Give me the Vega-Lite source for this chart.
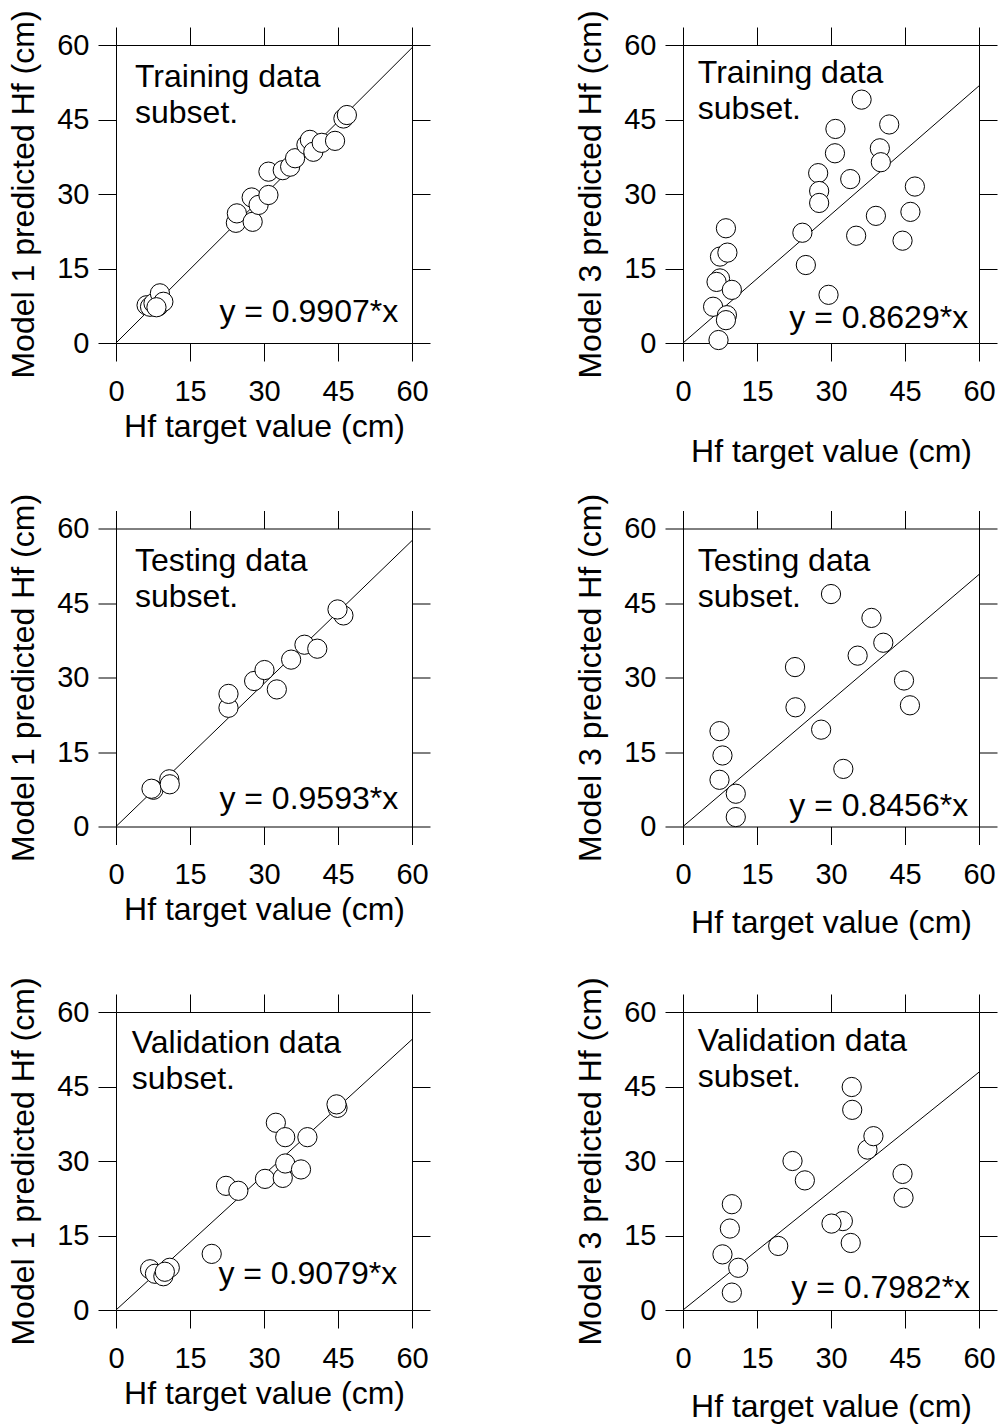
{
  "$schema": "https://vega.github.io/schema/vega-lite/v6.json",
  "background": "white",
  "padding": {"left": 7, "top": 9, "right": 5, "bottom": 5},
  "config": {
    "font": "Liberation Sans",
    "view": {"stroke": null},
    "axis": {
      "grid": false, "domainColor": "black", "domainWidth": 1, "tickColor": "black", "tickWidth": 1, "tickSize": 18,
      "labelFont": "Liberation Sans", "titleFont": "Liberation Sans",
      "labelFontSize": 29, "titleFontSize": 32, "titleFontWeight": "normal",
      "labelColor": "black", "titleColor": "black", "labelFlush": false, "labelOverlap": false, "labelBound": false
    }
  },
  "datasets": {
    "points": [
      {"panel":"L1","x":6.2,"y":7.6},{"panel":"L1","x":6.9,"y":7.3},{"panel":"L1","x":7.6,"y":8.0},{"panel":"L1","x":8.6,"y":7.4},{"panel":"L1","x":8.9,"y":10.0},{"panel":"L1","x":9.6,"y":8.3},{"panel":"L1","x":8.2,"y":7.2},
      {"panel":"L1","x":24.3,"y":24.2},{"panel":"L1","x":24.5,"y":26.1},{"panel":"L1","x":27.5,"y":29.3},{"panel":"L1","x":27.7,"y":24.4},{"panel":"L1","x":28.9,"y":27.8},{"panel":"L1","x":30.9,"y":29.8},{"panel":"L1","x":30.9,"y":34.5},{"panel":"L1","x":33.8,"y":34.8},{"panel":"L1","x":35.3,"y":35.5},{"panel":"L1","x":36.3,"y":37.2},{"panel":"L1","x":38.6,"y":39.9},{"panel":"L1","x":39.3,"y":40.9},{"panel":"L1","x":40.0,"y":38.5},{"panel":"L1","x":41.7,"y":40.3},{"panel":"L1","x":44.4,"y":40.7},{"panel":"L1","x":46.1,"y":45.2},{"panel":"L1","x":46.8,"y":45.9},
      {"panel":"R1","x":36.2,"y":49.0},{"panel":"R1","x":30.9,"y":43.1},{"panel":"R1","x":41.8,"y":44.0},{"panel":"R1","x":30.8,"y":38.2},{"panel":"R1","x":39.9,"y":39.2},{"panel":"R1","x":40.1,"y":36.4},{"panel":"R1","x":27.4,"y":34.2},{"panel":"R1","x":27.6,"y":30.6},{"panel":"R1","x":27.6,"y":28.2},{"panel":"R1","x":33.9,"y":33.0},{"panel":"R1","x":47.0,"y":31.5},{"panel":"R1","x":46.1,"y":26.4},{"panel":"R1","x":39.1,"y":25.6},{"panel":"R1","x":35.1,"y":21.6},{"panel":"R1","x":44.5,"y":20.6},{"panel":"R1","x":24.2,"y":22.2},{"panel":"R1","x":24.9,"y":15.7},{"panel":"R1","x":29.5,"y":9.7},{"panel":"R1","x":8.7,"y":23.1},{"panel":"R1","x":7.5,"y":17.4},{"panel":"R1","x":9.0,"y":18.2},{"panel":"R1","x":7.5,"y":13.0},{"panel":"R1","x":6.8,"y":12.3},{"panel":"R1","x":9.9,"y":10.7},{"panel":"R1","x":6.1,"y":7.3},{"panel":"R1","x":8.9,"y":5.6},{"panel":"R1","x":8.7,"y":4.6},{"panel":"R1","x":7.2,"y":0.6},
      {"panel":"L2","x":7.6,"y":7.4},{"panel":"L2","x":7.2,"y":7.6},{"panel":"L2","x":10.8,"y":9.5},{"panel":"L2","x":10.9,"y":8.5},{"panel":"L2","x":22.8,"y":23.9},{"panel":"L2","x":22.8,"y":26.7},{"panel":"L2","x":28.0,"y":29.3},{"panel":"L2","x":30.1,"y":31.5},{"panel":"L2","x":32.6,"y":27.6},{"panel":"L2","x":35.5,"y":33.6},{"panel":"L2","x":38.2,"y":36.6},{"panel":"L2","x":40.8,"y":35.8},{"panel":"L2","x":46.1,"y":42.5},{"panel":"L2","x":44.9,"y":43.7},
      {"panel":"R2","x":30.0,"y":46.8},{"panel":"R2","x":38.2,"y":42.0},{"panel":"R2","x":40.6,"y":37.0},{"panel":"R2","x":35.4,"y":34.4},{"panel":"R2","x":22.7,"y":32.1},{"panel":"R2","x":44.8,"y":29.4},{"panel":"R2","x":46.0,"y":24.4},{"panel":"R2","x":22.8,"y":24.0},{"panel":"R2","x":28.0,"y":19.5},{"panel":"R2","x":32.5,"y":11.6},{"panel":"R2","x":7.4,"y":19.2},{"panel":"R2","x":8.0,"y":14.3},{"panel":"R2","x":7.4,"y":9.4},{"panel":"R2","x":10.7,"y":6.6},{"panel":"R2","x":10.7,"y":1.9},
      {"panel":"L3","x":6.9,"y":8.2},{"panel":"L3","x":7.9,"y":7.3},{"panel":"L3","x":9.6,"y":6.8},{"panel":"L3","x":10.9,"y":8.5},{"panel":"L3","x":9.9,"y":7.7},{"panel":"L3","x":19.4,"y":11.3},{"panel":"L3","x":22.3,"y":25.0},{"panel":"L3","x":24.8,"y":24.0},{"panel":"L3","x":30.2,"y":26.4},{"panel":"L3","x":33.8,"y":26.6},{"panel":"L3","x":34.3,"y":29.5},{"panel":"L3","x":37.5,"y":28.3},{"panel":"L3","x":32.4,"y":37.7},{"panel":"L3","x":34.3,"y":34.8},{"panel":"L3","x":38.8,"y":34.8},{"panel":"L3","x":44.9,"y":40.7},{"panel":"L3","x":44.7,"y":41.4},
      {"panel":"R3","x":34.2,"y":44.9},{"panel":"R3","x":34.3,"y":40.3},{"panel":"R3","x":37.4,"y":32.3},{"panel":"R3","x":38.6,"y":35.0},{"panel":"R3","x":22.2,"y":30.0},{"panel":"R3","x":24.7,"y":26.1},{"panel":"R3","x":44.5,"y":27.4},{"panel":"R3","x":44.7,"y":22.6},{"panel":"R3","x":9.9,"y":21.3},{"panel":"R3","x":9.5,"y":16.4},{"panel":"R3","x":8.0,"y":11.2},{"panel":"R3","x":11.2,"y":8.5},{"panel":"R3","x":9.9,"y":3.5},{"panel":"R3","x":19.3,"y":12.9},{"panel":"R3","x":32.4,"y":17.9},{"panel":"R3","x":30.1,"y":17.4},{"panel":"R3","x":34.0,"y":13.5}
    ],
    "lines": [
      {"panel":"L1","x":0,"y":0},{"panel":"L1","x":60,"y":59.44},
      {"panel":"R1","x":0,"y":0},{"panel":"R1","x":60,"y":51.77},
      {"panel":"L2","x":0,"y":0},{"panel":"L2","x":60,"y":57.56},
      {"panel":"R2","x":0,"y":0},{"panel":"R2","x":60,"y":50.74},
      {"panel":"L3","x":0,"y":0},{"panel":"L3","x":60,"y":54.47},
      {"panel":"R3","x":0,"y":0},{"panel":"R3","x":60,"y":47.89}
    ],
    "notes": [
      {"panel":"L1","title":"Training data\nsubset.","eq":"y = 0.9907*x"},
      {"panel":"R1","title":"Training data\nsubset.","eq":"y = 0.8629*x"},
      {"panel":"L2","title":"Testing data\nsubset.","eq":"y = 0.9593*x"},
      {"panel":"R2","title":"Testing data\nsubset.","eq":"y = 0.8456*x"},
      {"panel":"L3","title":"Validation data\nsubset.","eq":"y = 0.9079*x"},
      {"panel":"R3","title":"Validation data\nsubset.","eq":"y = 0.7982*x"}
    ]
  },
  "columns": 2,
  "spacing": {"row": 185.5, "column": 271},
  "bounds": "flush",
  "concat": [
      {"width":296,"height":298,"layer":[
        {"data":{"name":"lines"},"transform":[{"filter":"datum.panel==='L1'"}],"mark":{"type":"line","color":"black","strokeWidth":1},
         "encoding":{"x":{"field":"x","type":"quantitative","scale":{"domain":[0,60],"nice":false},"axis":{"orient":"top","labels":false,"title":null,"values":[0,15,30,45,60]}},
                     "y":{"field":"y","type":"quantitative","scale":{"domain":[0,60],"nice":false},"axis":{"orient":"right","labels":false,"title":null,"values":[0,15,30,45,60]}}}},
        {"data":{"name":"points"},"transform":[{"filter":"datum.panel==='L1'"}],"mark":{"type":"point","shape":"circle","filled":true,"fill":"white","stroke":"black","strokeWidth":1,"size":370,"opacity":1},
         "encoding":{"x":{"field":"x","type":"quantitative","scale":{"domain":[0,60],"nice":false},"axis":{"orient":"bottom","title":"Hf target value (cm)","labelPadding":16,"titlePadding":5,"values":[0,15,30,45,60]}},
                     "y":{"field":"y","type":"quantitative","scale":{"domain":[0,60],"nice":false},"axis":{"orient":"left","title":"Model 1 predicted Hf (cm)","labelPadding":9,"titlePadding":16,"values":[0,15,30,45,60]}}}},
        {"data":{"name":"notes"},"transform":[{"filter":"datum.panel==='L1'"}],"mark":{"type":"text","align":"left","baseline":"alphabetic","fontSize":32,"lineBreak":"\n","lineHeight":36,"color":"black"},
         "encoding":{"x":{"datum":3.85,"type":"quantitative","axis":null},"y":{"datum":51.5,"type":"quantitative","axis":null},"text":{"field":"title"}}},
        {"data":{"name":"notes"},"transform":[{"filter":"datum.panel==='L1'"}],"mark":{"type":"text","align":"right","baseline":"alphabetic","fontSize":32,"color":"black"},
         "encoding":{"x":{"datum":57.2,"type":"quantitative","axis":null},"y":{"datum":4.2,"type":"quantitative","axis":null},"text":{"field":"eq"}}}
      ]},
      {"width":296,"height":298,"layer":[
        {"data":{"name":"lines"},"transform":[{"filter":"datum.panel==='R1'"}],"mark":{"type":"line","color":"black","strokeWidth":1},
         "encoding":{"x":{"field":"x","type":"quantitative","scale":{"domain":[0,60],"nice":false},"axis":{"orient":"top","labels":false,"title":null,"values":[0,15,30,45,60]}},
                     "y":{"field":"y","type":"quantitative","scale":{"domain":[0,60],"nice":false},"axis":{"orient":"right","labels":false,"title":null,"values":[0,15,30,45,60]}}}},
        {"data":{"name":"points"},"transform":[{"filter":"datum.panel==='R1'"}],"mark":{"type":"point","shape":"circle","filled":true,"fill":"white","stroke":"black","strokeWidth":1,"size":370,"opacity":1},
         "encoding":{"x":{"field":"x","type":"quantitative","scale":{"domain":[0,60],"nice":false},"axis":{"orient":"bottom","title":"Hf target value (cm)","labelPadding":16,"titlePadding":30,"values":[0,15,30,45,60]}},
                     "y":{"field":"y","type":"quantitative","scale":{"domain":[0,60],"nice":false},"axis":{"orient":"left","title":"Model 3 predicted Hf (cm)","labelPadding":9,"titlePadding":16,"values":[0,15,30,45,60]}}}},
        {"data":{"name":"notes"},"transform":[{"filter":"datum.panel==='R1'"}],"mark":{"type":"text","align":"left","baseline":"alphabetic","fontSize":32,"lineBreak":"\n","lineHeight":36,"color":"black"},
         "encoding":{"x":{"datum":3.0,"type":"quantitative","axis":null},"y":{"datum":52.3,"type":"quantitative","axis":null},"text":{"field":"title"}}},
        {"data":{"name":"notes"},"transform":[{"filter":"datum.panel==='R1'"}],"mark":{"type":"text","align":"right","baseline":"alphabetic","fontSize":32,"color":"black"},
         "encoding":{"x":{"datum":57.8,"type":"quantitative","axis":null},"y":{"datum":3.0,"type":"quantitative","axis":null},"text":{"field":"eq"}}}
      ]},
      {"width":296,"height":298,"layer":[
        {"data":{"name":"lines"},"transform":[{"filter":"datum.panel==='L2'"}],"mark":{"type":"line","color":"black","strokeWidth":1},
         "encoding":{"x":{"field":"x","type":"quantitative","scale":{"domain":[0,60],"nice":false},"axis":{"orient":"top","labels":false,"title":null,"values":[0,15,30,45,60]}},
                     "y":{"field":"y","type":"quantitative","scale":{"domain":[0,60],"nice":false},"axis":{"orient":"right","labels":false,"title":null,"values":[0,15,30,45,60]}}}},
        {"data":{"name":"points"},"transform":[{"filter":"datum.panel==='L2'"}],"mark":{"type":"point","shape":"circle","filled":true,"fill":"white","stroke":"black","strokeWidth":1,"size":370,"opacity":1},
         "encoding":{"x":{"field":"x","type":"quantitative","scale":{"domain":[0,60],"nice":false},"axis":{"orient":"bottom","title":"Hf target value (cm)","labelPadding":16,"titlePadding":5,"values":[0,15,30,45,60]}},
                     "y":{"field":"y","type":"quantitative","scale":{"domain":[0,60],"nice":false},"axis":{"orient":"left","title":"Model 1 predicted Hf (cm)","labelPadding":9,"titlePadding":16,"values":[0,15,30,45,60]}}}},
        {"data":{"name":"notes"},"transform":[{"filter":"datum.panel==='L2'"}],"mark":{"type":"text","align":"left","baseline":"alphabetic","fontSize":32,"lineBreak":"\n","lineHeight":36,"color":"black"},
         "encoding":{"x":{"datum":3.85,"type":"quantitative","axis":null},"y":{"datum":51.5,"type":"quantitative","axis":null},"text":{"field":"title"}}},
        {"data":{"name":"notes"},"transform":[{"filter":"datum.panel==='L2'"}],"mark":{"type":"text","align":"right","baseline":"alphabetic","fontSize":32,"color":"black"},
         "encoding":{"x":{"datum":57.2,"type":"quantitative","axis":null},"y":{"datum":3.6,"type":"quantitative","axis":null},"text":{"field":"eq"}}}
      ]},
      {"width":296,"height":298,"layer":[
        {"data":{"name":"lines"},"transform":[{"filter":"datum.panel==='R2'"}],"mark":{"type":"line","color":"black","strokeWidth":1},
         "encoding":{"x":{"field":"x","type":"quantitative","scale":{"domain":[0,60],"nice":false},"axis":{"orient":"top","labels":false,"title":null,"values":[0,15,30,45,60]}},
                     "y":{"field":"y","type":"quantitative","scale":{"domain":[0,60],"nice":false},"axis":{"orient":"right","labels":false,"title":null,"values":[0,15,30,45,60]}}}},
        {"data":{"name":"points"},"transform":[{"filter":"datum.panel==='R2'"}],"mark":{"type":"point","shape":"circle","filled":true,"fill":"white","stroke":"black","strokeWidth":1,"size":370,"opacity":1},
         "encoding":{"x":{"field":"x","type":"quantitative","scale":{"domain":[0,60],"nice":false},"axis":{"orient":"bottom","title":"Hf target value (cm)","labelPadding":16,"titlePadding":18,"values":[0,15,30,45,60]}},
                     "y":{"field":"y","type":"quantitative","scale":{"domain":[0,60],"nice":false},"axis":{"orient":"left","title":"Model 3 predicted Hf (cm)","labelPadding":9,"titlePadding":16,"values":[0,15,30,45,60]}}}},
        {"data":{"name":"notes"},"transform":[{"filter":"datum.panel==='R2'"}],"mark":{"type":"text","align":"left","baseline":"alphabetic","fontSize":32,"lineBreak":"\n","lineHeight":36,"color":"black"},
         "encoding":{"x":{"datum":3.0,"type":"quantitative","axis":null},"y":{"datum":51.5,"type":"quantitative","axis":null},"text":{"field":"title"}}},
        {"data":{"name":"notes"},"transform":[{"filter":"datum.panel==='R2'"}],"mark":{"type":"text","align":"right","baseline":"alphabetic","fontSize":32,"color":"black"},
         "encoding":{"x":{"datum":57.8,"type":"quantitative","axis":null},"y":{"datum":2.2,"type":"quantitative","axis":null},"text":{"field":"eq"}}}
      ]},
      {"width":296,"height":298,"layer":[
        {"data":{"name":"lines"},"transform":[{"filter":"datum.panel==='L3'"}],"mark":{"type":"line","color":"black","strokeWidth":1},
         "encoding":{"x":{"field":"x","type":"quantitative","scale":{"domain":[0,60],"nice":false},"axis":{"orient":"top","labels":false,"title":null,"values":[0,15,30,45,60]}},
                     "y":{"field":"y","type":"quantitative","scale":{"domain":[0,60],"nice":false},"axis":{"orient":"right","labels":false,"title":null,"values":[0,15,30,45,60]}}}},
        {"data":{"name":"points"},"transform":[{"filter":"datum.panel==='L3'"}],"mark":{"type":"point","shape":"circle","filled":true,"fill":"white","stroke":"black","strokeWidth":1,"size":370,"opacity":1},
         "encoding":{"x":{"field":"x","type":"quantitative","scale":{"domain":[0,60],"nice":false},"axis":{"orient":"bottom","title":"Hf target value (cm)","labelPadding":16,"titlePadding":5,"values":[0,15,30,45,60]}},
                     "y":{"field":"y","type":"quantitative","scale":{"domain":[0,60],"nice":false},"axis":{"orient":"left","title":"Model 1 predicted Hf (cm)","labelPadding":9,"titlePadding":16,"values":[0,15,30,45,60]}}}},
        {"data":{"name":"notes"},"transform":[{"filter":"datum.panel==='L3'"}],"mark":{"type":"text","align":"left","baseline":"alphabetic","fontSize":32,"lineBreak":"\n","lineHeight":36,"color":"black"},
         "encoding":{"x":{"datum":3.2,"type":"quantitative","axis":null},"y":{"datum":51.7,"type":"quantitative","axis":null},"text":{"field":"title"}}},
        {"data":{"name":"notes"},"transform":[{"filter":"datum.panel==='L3'"}],"mark":{"type":"text","align":"right","baseline":"alphabetic","fontSize":32,"color":"black"},
         "encoding":{"x":{"datum":57.0,"type":"quantitative","axis":null},"y":{"datum":5.3,"type":"quantitative","axis":null},"text":{"field":"eq"}}}
      ]},
      {"width":296,"height":298,"layer":[
        {"data":{"name":"lines"},"transform":[{"filter":"datum.panel==='R3'"}],"mark":{"type":"line","color":"black","strokeWidth":1},
         "encoding":{"x":{"field":"x","type":"quantitative","scale":{"domain":[0,60],"nice":false},"axis":{"orient":"top","labels":false,"title":null,"values":[0,15,30,45,60]}},
                     "y":{"field":"y","type":"quantitative","scale":{"domain":[0,60],"nice":false},"axis":{"orient":"right","labels":false,"title":null,"values":[0,15,30,45,60]}}}},
        {"data":{"name":"points"},"transform":[{"filter":"datum.panel==='R3'"}],"mark":{"type":"point","shape":"circle","filled":true,"fill":"white","stroke":"black","strokeWidth":1,"size":370,"opacity":1},
         "encoding":{"x":{"field":"x","type":"quantitative","scale":{"domain":[0,60],"nice":false},"axis":{"orient":"bottom","title":"Hf target value (cm)","labelPadding":16,"titlePadding":18,"values":[0,15,30,45,60]}},
                     "y":{"field":"y","type":"quantitative","scale":{"domain":[0,60],"nice":false},"axis":{"orient":"left","title":"Model 3 predicted Hf (cm)","labelPadding":9,"titlePadding":16,"values":[0,15,30,45,60]}}}},
        {"data":{"name":"notes"},"transform":[{"filter":"datum.panel==='R3'"}],"mark":{"type":"text","align":"left","baseline":"alphabetic","fontSize":32,"lineBreak":"\n","lineHeight":36,"color":"black"},
         "encoding":{"x":{"datum":3.0,"type":"quantitative","axis":null},"y":{"datum":52.2,"type":"quantitative","axis":null},"text":{"field":"title"}}},
        {"data":{"name":"notes"},"transform":[{"filter":"datum.panel==='R3'"}],"mark":{"type":"text","align":"right","baseline":"alphabetic","fontSize":32,"color":"black"},
         "encoding":{"x":{"datum":58.2,"type":"quantitative","axis":null},"y":{"datum":2.4,"type":"quantitative","axis":null},"text":{"field":"eq"}}}
      ]}
  ]
}
